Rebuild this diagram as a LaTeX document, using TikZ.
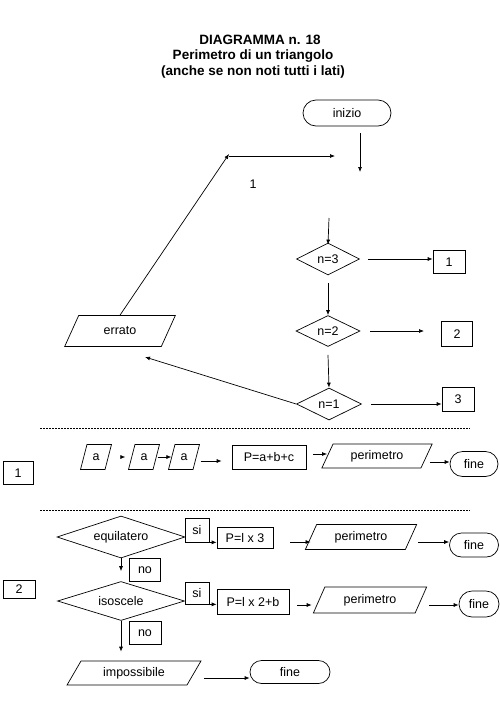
\documentclass[tikz,border=0pt]{standalone}
\usepackage{fontspec}
\setmainfont{Liberation Sans}
\usetikzlibrary{shapes.geometric,shapes.misc,arrows.meta}
\begin{document}
\begin{tikzpicture}[x=1pt,y=-1pt,
  line width=0.7pt,
  every node/.style={inner sep=0pt, font=\fontsize{12.5}{14}\selectfont},
  titlefont/.style={font=\bfseries\fontsize{13.5}{16}\selectfont},
  arr/.style={-{Latex[length=5pt,width=4pt]}},
  term/.style={draw, rounded rectangle},
  procbox/.style={draw, rectangle},
  para/.style={draw, trapezium, trapezium left angle=#1, trapezium right angle=180-#1, trapezium stretches=true},
  para/.default=60,
  dia/.style={draw, diamond, aspect=2},
  sep/.style={dash pattern=on 2pt off 1pt, line width=1pt}
]
\useasboundingbox (0,0) rectangle (500,707);

% title
\node[titlefont] (t1) at (260,40) {DIAGRAMMA n. 18};
\node[titlefont] (t2) at (253,56) {Perimetro di un triangolo};
\node[titlefont] (t3) at (253,72) {(anche se non noti tutti i lati)};

% top part
\node[term, minimum width=88pt, minimum height=26pt] (inizio) at (347,113) {inizio};
\coordinate (c1) at (360,133);
\coordinate (c2) at (360,172);
\draw[arr] (c1) -- (c2);

\node[para=56, minimum width=111pt, minimum height=31pt] (errato) at (120,331) {errato};
\coordinate (k) at (229,154);
\coordinate (k2) at (335,156);
\draw[arr] (errato.north) -- (k);
\draw[arr] ([yshift=-2pt]k) -- (k2);
\node (lab1) at (253,184) {1};

\coordinate (d1) at (329,218);
\node[dia, minimum width=63pt, minimum height=32pt] (n3) at (328,259) {n=3};
\draw[arr] (d1) -- ([yshift=-2pt]n3.north);
\node[procbox, minimum width=32pt, minimum height=23pt] (b1) at (449,262) {1};
\draw[arr] ([xshift=8pt]n3.east) -- (b1.west |- n3.east);

\node[dia, minimum width=64pt, minimum height=31pt] (n2) at (328,331) {n=2};
\draw[arr] ([yshift=-8pt]n3.south) -- (n2.north);
\coordinate (q2) at (424,331);
\node[procbox, minimum width=31pt, minimum height=25pt] (b2) at (457,334) {2};
\draw[arr] ([xshift=10pt]n2.east) -- (q2);

\node[dia, minimum width=65pt, minimum height=32pt] (n1) at (329,404) {n=1};
\draw[arr] ([yshift=-8pt]n2.south) -- (n1.north);
\node[procbox, minimum width=32pt, minimum height=24pt] (b3) at (458,399) {3};
\draw[arr] ([xshift=9pt]n1.east) -- (b3.west |- n1.east);
\coordinate (er2) at (145,357);
\draw[arr] (n1.west) -- (er2);

% separator 1
\coordinate (s1a) at (40,428);
\coordinate (s1b) at (470,428);
\draw[sep] (s1a) -- (s1b);

% case 1
\node[procbox, minimum width=30pt, minimum height=23pt] (lbl1) at (18,473) {1};
\node[para=70, minimum width=31pt, minimum height=25pt] (a1) at (96,457) {a};
\node[para=70, minimum width=31pt, minimum height=25pt] (a2) at (144,457) {a};
\node[para=70, minimum width=31pt, minimum height=25pt] (a3) at (184,457) {a};
\node[procbox, minimum width=74pt, minimum height=24pt] (p1) at (269,457) {P=a+b+c};
\node[para, minimum width=111pt, minimum height=24pt] (per1) at (377,456) {perimetro};
\node[term, minimum width=48pt, minimum height=25pt] (fine1) at (474,464) {fine};
\draw[arr, shorten <=13pt, shorten >=6pt] (a1.east) -- (a2.west);
\draw[arr, shorten <=1pt] (a2.east) -- (a3.west);
\draw[arr, shorten <=4pt, shorten >=10pt] ([yshift=-4pt]a3.east) -- ([yshift=-4pt]a3.east -| p1.west);
\draw[arr, shorten <=7pt] ([yshift=3pt]p1.east) -- ([yshift=3pt]p1.east -| per1.west);
\draw[arr, shorten <=3pt] ([yshift=-6pt]per1.east) -- ([yshift=-6pt]per1.east -| fine1.west);

% separator 2
\coordinate (s2a) at (40,510);
\coordinate (s2b) at (470,510);
\draw[sep] (s2a) -- (s2b);

% case 2
\node[procbox, minimum width=32pt, minimum height=18pt] (lbl2) at (19,589) {2};
\node[dia, minimum width=128pt, minimum height=42pt] (eq) at (121,537) {equilatero};
\node[procbox, minimum width=24pt, minimum height=24pt] (siA) at (197,530) {si};
\node[procbox, minimum width=56pt, minimum height=21pt] (pl3) at (245,538) {P=l x 3};
\node[para, minimum width=112pt, minimum height=25pt] (per2) at (361,537) {perimetro};
\node[term, minimum width=49pt, minimum height=24pt] (fine2) at (474,545) {fine};
\draw[arr] (siA.south east) -- (siA.south east -| pl3.west);
\draw[arr, shorten <=17pt] ([yshift=-4pt]pl3.east) -- ([yshift=-4pt]pl3.east -| per2.west);
\draw[arr, shorten <=7pt] ([yshift=-5pt]per2.east) -- ([yshift=-5pt]per2.east -| fine2.west);

\node[procbox, minimum width=31pt, minimum height=23pt] (noA) at (145,570) {no};
\node[dia, minimum width=127pt, minimum height=39pt] (iso) at (121,601) {isoscele};
\draw[arr, shorten >=10pt] (eq.south) -- (iso.north);
\node[procbox, minimum width=24pt, minimum height=22pt] (siB) at (197,593) {si};
\node[procbox, minimum width=72pt, minimum height=25pt] (pl2) at (253,602) {P=l x 2+b};
\node[para, minimum width=114pt, minimum height=26pt] (per3) at (370,600) {perimetro};
\node[term, minimum width=40pt, minimum height=26pt] (fine3) at (479,604) {fine};
\draw[arr] (siB.south east) -- (siB.south east -| pl2.west);
\draw[arr, shorten <=8pt, shorten >=7pt] ([yshift=-3pt]pl2.east) -- ([yshift=-3pt]pl2.east -| per3.west);
\draw[arr, shorten <=8pt] ([yshift=-5pt]per3.east) -- ([yshift=-5pt]per3.east -| fine3.west);

\node[procbox, minimum width=32pt, minimum height=23pt] (noB) at (145,633) {no};
\node[para=55, minimum width=135pt, minimum height=24pt] (imp) at (134,673) {impossibile};
\node[term, minimum width=80pt, minimum height=23pt] (fineB) at (290,672) {fine};
\draw[arr, shorten >=9pt] (iso.south) -- (iso.south |- imp.north);
\draw[arr, shorten <=10pt] ([yshift=-5pt]imp.east) -- ([yshift=-5pt]imp.east -| fineB.west);
\end{tikzpicture}
\end{document}
